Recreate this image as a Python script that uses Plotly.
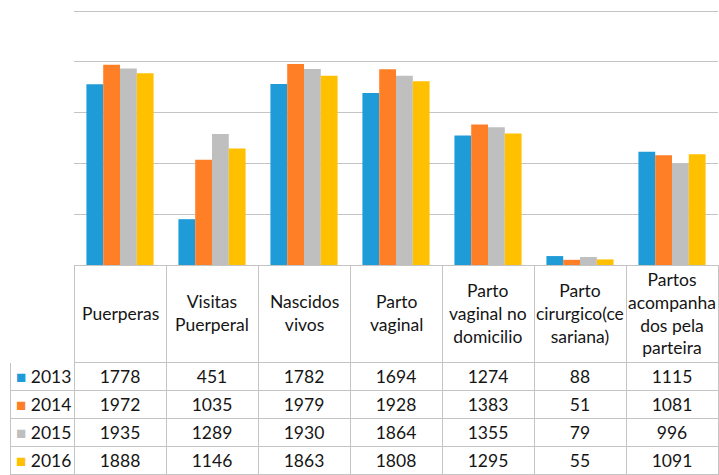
import plotly.graph_objects as go

categories = [
    "Puerperas",
    "Visitas<br>Puerperal",
    "Nascidos<br>vivos",
    "Parto<br>vaginal",
    "Parto<br>vaginal no<br>domicilio",
    "Parto<br>cirurgico(ce<br>sariana)",
    "Partos<br>acompanha<br>dos pela<br>parteira",
]
years = ["2013", "2014", "2015", "2016"]
v2013 = [1778, 451, 1782, 1694, 1274, 88, 1115]
v2014 = [1972, 1035, 1979, 1928, 1383, 51, 1081]
v2015 = [1935, 1289, 1930, 1864, 1355, 79, 996]
v2016 = [1888, 1146, 1863, 1808, 1295, 55, 1091]

series = [v2013, v2014, v2015, v2016]
colors = ["#1F9BD7", "#FF7F27", "#BFBFBF", "#FFC000"]
font = "Lato, 'Open Sans', sans-serif"
fsize = 17.5
W, H = 719, 475
grid = "#C4C4C4"
txt = "#151515"
head_h, row_h = 97, 28
table_top = 265  # pixel row where the plot area ends and the table starts

fig = go.Figure()
for yr, vals, col in zip(years, series, colors):
    fig.add_bar(x=categories, y=vals, name=yr, marker_color=col, marker_line_width=0)

# data table under the plot (Excel style); legend keys go in the first column
cols = [[""] * len(years)] + [[str(s[i]) for s in series] for i in range(len(categories))]
fig.add_trace(go.Table(
    domain=dict(x=[10 / W, 718 / W], y=[0, (H - table_top) / H]),
    columnwidth=[64] + [92] * len(categories),
    header=dict(
        values=[""] * (len(categories) + 1),
        height=head_h,
        fill_color="white",
        line=dict(color=["white"] + [grid] * len(categories), width=1),
    ),
    cells=dict(
        values=cols,
        height=row_h,
        align=["left"] + ["center"] * len(categories),
        fill_color="white",
        line=dict(color=grid, width=1),
        font=dict(family=font, size=fsize, color=txt),
    ),
))

# category names in the table header, centred in their cells
for c in categories:
    fig.add_annotation(
        x=c, xref="x", y=(H - table_top - head_h / 2) / H, yref="paper",
        text=c, showarrow=False, valign="middle", yanchor="middle",
        font=dict(family=font, size=fsize, color=txt),
    )

# legend keys: coloured square + year in each table row
for i, (yr, col) in enumerate(zip(years, colors)):
    fig.add_annotation(
        x=14 / W, xref="paper", xanchor="left",
        y=(H - table_top - head_h - row_h * (i + 0.5)) / H, yref="paper", yanchor="middle",
        text=f"<span style='color:{col};font-size:17px'>■</span> {yr}",
        showarrow=False,
        font=dict(family=font, size=fsize, color=txt),
    )

fig.update_layout(
    width=W,
    height=H,
    margin=dict(l=0, r=0, t=0, b=0),
    barmode="group",
    bargap=0.27,
    bargroupgap=0,
    showlegend=False,
    plot_bgcolor="white",
    paper_bgcolor="white",
    font=dict(family=font, size=fsize, color=txt),
    xaxis=dict(
        domain=[74 / W, 718 / W],
        showticklabels=False,
        showgrid=False,
        showline=True,
        linecolor=grid,
        ticks="",
    ),
    yaxis=dict(
        domain=[(H - table_top) / H, 465 / H],
        range=[0, 2510],
        dtick=500,
        showticklabels=False,
        showgrid=True,
        gridcolor=grid,
        zeroline=False,
    ),
)

fig.write_html(
    "out.html",
    config={"displayModeBar": False},
    post_script="document.body.style.margin='0';",
)
